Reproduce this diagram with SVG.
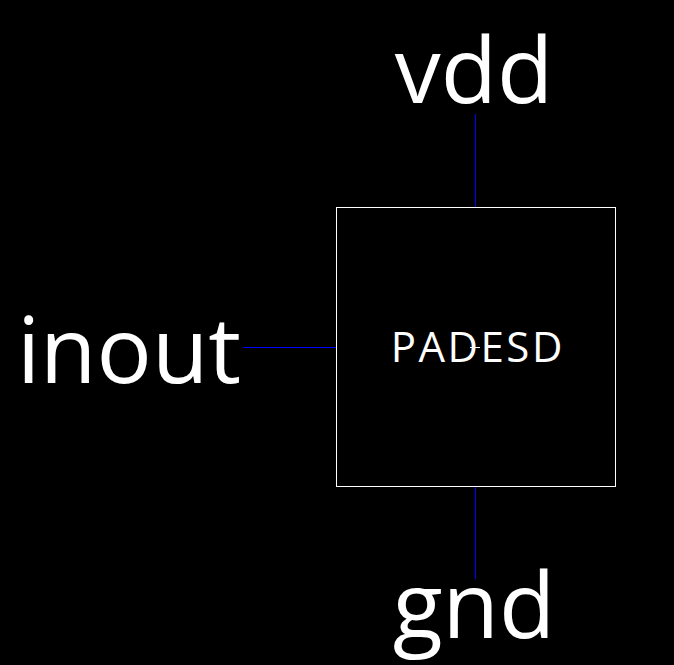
<svg xmlns="http://www.w3.org/2000/svg" width="674" height="665" viewBox="0 0 674 665">
<style>
.lbl{font-family:"Open Sans","Noto Sans","Liberation Sans",sans-serif;fill:#ffffff}
.pin{font-size:92px}
.wire{stroke:#0000ff;stroke-width:1;fill:none}
</style>
<rect x="0" y="0" width="674" height="665" fill="#000000"/>
<g id="connectors">
<line class="wire" x1="475.5" y1="114" x2="475.5" y2="207.5"/>
<line class="wire" x1="475.5" y1="486.5" x2="475.5" y2="579"/>
<line class="wire" x1="243" y1="347.5" x2="336.5" y2="347.5"/>
</g>
<g id="padesd">
<rect x="336.5" y="207.5" width="279" height="279" fill="#000000" stroke="#ffffff" stroke-width="1"/>
<text class="lbl" x="477.8" y="362" font-size="42" letter-spacing="2.5" text-anchor="middle">PADESD</text>
<line x1="470" y1="347.5" x2="480" y2="347.5" stroke="#ffffff" stroke-width="1"/>
</g>
<g id="vdd">
<text class="lbl pin" x="474" y="103" text-anchor="middle">vdd</text>
</g>
<g id="gnd">
<text class="lbl pin" x="474" y="638" text-anchor="middle">gnd</text>
</g>
<g id="inout">
<text class="lbl pin" x="129" y="383" text-anchor="middle">inout</text>
</g>
</svg>
